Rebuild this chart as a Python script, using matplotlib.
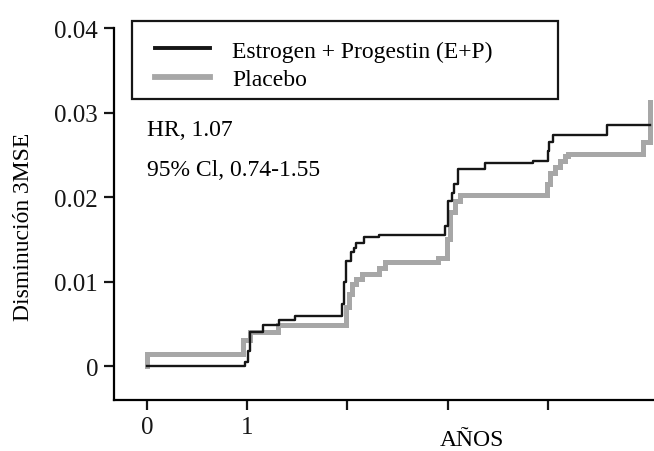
import matplotlib
matplotlib.use("Agg")
import matplotlib.pyplot as plt
from matplotlib.lines import Line2D
from matplotlib.patches import Rectangle

# step curves (years, cumulative decline)
ep_years = [0.0, 0.98, 1.01, 1.03, 1.16, 1.32, 1.48, 1.95, 1.97, 1.99, 2.04,
            2.07, 2.09, 2.17, 2.32, 2.97, 3.00, 3.04, 3.06, 3.10, 3.37, 3.85,
            4.00, 4.01, 4.05, 4.59, 5.02]
ep_vals = [0.0, 0.0005, 0.0018, 0.0040, 0.0048, 0.0054, 0.0059, 0.0073,
           0.0100, 0.0124, 0.0135, 0.0140, 0.0146, 0.0153, 0.0155, 0.0166,
           0.0195, 0.0205, 0.0216, 0.0233, 0.0240, 0.0243, 0.0255, 0.0265,
           0.0273, 0.0285, 0.0285]

pl_years = [0.0, 0.0, 0.96, 1.03, 1.31, 1.99, 2.02, 2.05, 2.09, 2.15, 2.32,
            2.37, 2.90, 2.99, 3.02, 3.07, 3.12, 3.99, 4.02, 4.07, 4.12, 4.17,
            4.20, 4.95, 5.02, 5.02]
pl_vals = [0.0, 0.0014, 0.0031, 0.0040, 0.0048, 0.0070, 0.0085, 0.0097,
           0.0103, 0.0109, 0.0116, 0.0123, 0.0128, 0.0150, 0.0182, 0.0195,
           0.0202, 0.0215, 0.0229, 0.0236, 0.0243, 0.0248, 0.0251, 0.0265,
           0.0265, 0.0312]

x_ticks = [0, 1, 2, 3, 4]
x_labels = ["0", "1", "", "", ""]
y_ticks = [0, 0.01, 0.02, 0.03, 0.04]
y_labels = ["0", "0.01", "0.02", "0.03", "0.04"]

BLACK = "#161616"
GREY = "#a7a7a7"
W, H = 654, 452

plt.rcParams["font.family"] = ["Liberation Serif", "DejaVu Serif"]

fig = plt.figure(figsize=(W / 100, H / 100), dpi=100)
ax = fig.add_axes([114 / W, 1 - 401 / H, 540 / W, 386 / H])

ax.step(pl_years, pl_vals, where="post", color=GREY, lw=3.6,
        solid_joinstyle="miter", zorder=2)
ax.step(ep_years, ep_vals, where="post", color=BLACK, lw=1.7, zorder=3)

ax.set_xlim(-0.33, 5.06)
ax.set_ylim(-0.00402, 0.04166)

for s in ("top", "right"):
    ax.spines[s].set_visible(False)
for s in ("left", "bottom"):
    ax.spines[s].set_linewidth(1.6)
ax.spines["left"].set_bounds(-0.00402, 0.04)

ax.set_xticks(x_ticks)
ax.set_xticklabels(x_labels)
ax.set_yticks(y_ticks)
ax.set_yticklabels(y_labels)
ax.tick_params(direction="out", length=7.5, width=1.6, labelsize=18,
               colors=BLACK, pad=4)

ax.set_ylabel("Disminución 3MSE", fontsize=17)
ax.yaxis.set_label_coords(-0.148, 0.451)
ax.set_xlabel("AÑOS", fontsize=17)
ax.xaxis.set_label_coords(0.663, -0.076)

fig.text(147 / W, 1 - 130 / H, "HR, 1.07", fontsize=17,
         va="center", ha="left")
fig.text(147 / W, 1 - 170 / H, "95% Cl, 0.74-1.55", fontsize=17,
         va="center", ha="left")

# legend box
fig.add_artist(Rectangle((132 / W, 1 - 100 / H), 426 / W, 78 / H,
                         transform=fig.transFigure, fill=False,
                         edgecolor=BLACK, lw=1.6))
handles = [Line2D([], [], color=BLACK, lw=2.8),
           Line2D([], [], color=GREY, lw=4.2)]
ax.legend(handles, ["Estrogen + Progestin (E+P)", "Placebo"],
          loc="upper left", bbox_to_anchor=(155 / W, 1 - 41 / H),
          bbox_transform=fig.transFigure, borderaxespad=0, borderpad=0,
          frameon=False, fontsize=17, handlelength=2.33, handletextpad=0.93,
          labelspacing=0.285)

fig.savefig("out.png", dpi=100)
